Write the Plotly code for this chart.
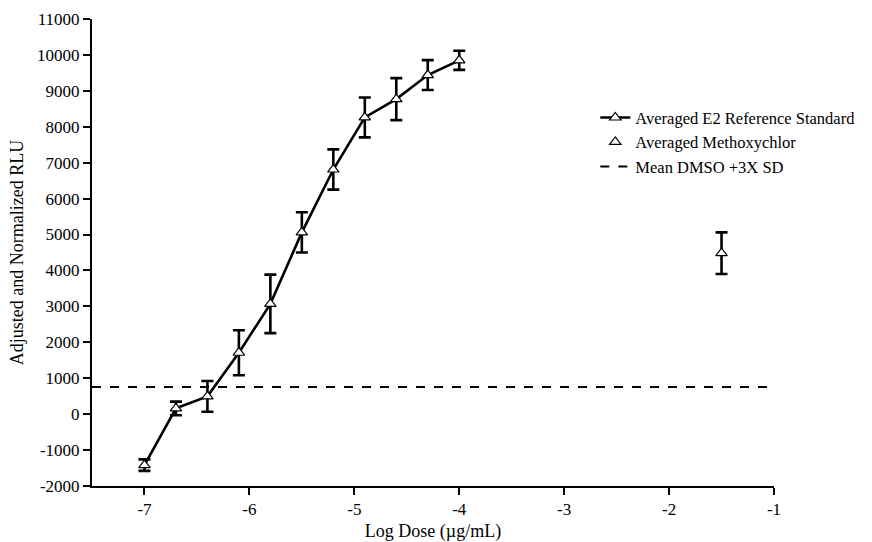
import plotly.graph_objects as go

# Log dose (ug/mL) for the E2 reference series
e2_log_dose = [-7.0, -6.7, -6.4, -6.1, -5.8, -5.5, -5.2, -4.9, -4.6, -4.3, -4.0]
e2_rlu = [-1420, 160, 495, 1710, 3070, 5060, 6810, 8260, 8770, 9440, 9850]
e2_err = [160, 190, 430, 625, 815, 560, 560, 555, 585, 415, 265]

# Methoxychlor test article
mxc_log_dose = [-1.5]
mxc_rlu = [4480]
mxc_err = [580]

# Threshold: mean DMSO + 3x SD
dmso_level = 755
x_range = [-7.5, -1.0]

y_ticks = list(range(-2000, 11001, 1000))
x_ticks = [-7, -6, -5, -4, -3, -2, -1]

FONT = "Liberation Serif, Times New Roman, serif"

tri_marker = dict(symbol="triangle-up", size=10, color="white",
                  line=dict(color="black", width=1.2))

fig = go.Figure()

fig.add_trace(go.Scatter(
    x=e2_log_dose, y=e2_rlu, mode="lines+markers",
    name="Averaged E2 Reference Standard",
    line=dict(color="black", width=2.6),
    marker=tri_marker,
    error_y=dict(type="data", array=e2_err, visible=True,
                 color="black", thickness=2.6, width=6),
))

fig.add_trace(go.Scatter(
    x=mxc_log_dose, y=mxc_rlu, mode="markers",
    name="Averaged Methoxychlor",
    marker=tri_marker,
    error_y=dict(type="data", array=mxc_err, visible=True,
                 color="black", thickness=2.6, width=6),
))

fig.add_trace(go.Scatter(
    x=x_range, y=[dmso_level, dmso_level], mode="lines",
    name="Mean DMSO +3X SD",
    line=dict(color="black", width=2, dash="dash"),
))

fig.update_layout(
    width=872, height=542,
    margin=dict(l=92, r=81, t=19, b=56),
    paper_bgcolor="white", plot_bgcolor="white",
    font=dict(family=FONT, size=17, color="black"),
    showlegend=True,
    legend=dict(x=0.738, y=0.826, xanchor="left", yanchor="top",
                bgcolor="rgba(0,0,0,0)", font=dict(family=FONT, size=16.5),
                tracegroupgap=0, itemwidth=30),
    xaxis=dict(
        range=x_range, tickvals=x_ticks, ticktext=[str(t) for t in x_ticks],
        showgrid=False, zeroline=False, automargin=False,
        showline=True, linecolor="black", linewidth=2,
        ticks="outside", ticklen=7, tickwidth=2, tickcolor="black",
        tickfont=dict(family=FONT, size=17),
        title=dict(text="Log Dose (µg/mL)", font=dict(family=FONT, size=18), standoff=9),
    ),
    yaxis=dict(
        range=[-2000, 11000], tickvals=y_ticks, ticktext=[str(t) for t in y_ticks],
        showgrid=False, zeroline=False, automargin=False,
        showline=True, linecolor="black", linewidth=2,
        ticks="outside", ticklen=7, tickwidth=2, tickcolor="black",
        tickfont=dict(family=FONT, size=17),
        title=dict(text="Adjusted and Normalized RLU", font=dict(family=FONT, size=18), standoff=9),
    ),
)

fig.write_html("out.html")
